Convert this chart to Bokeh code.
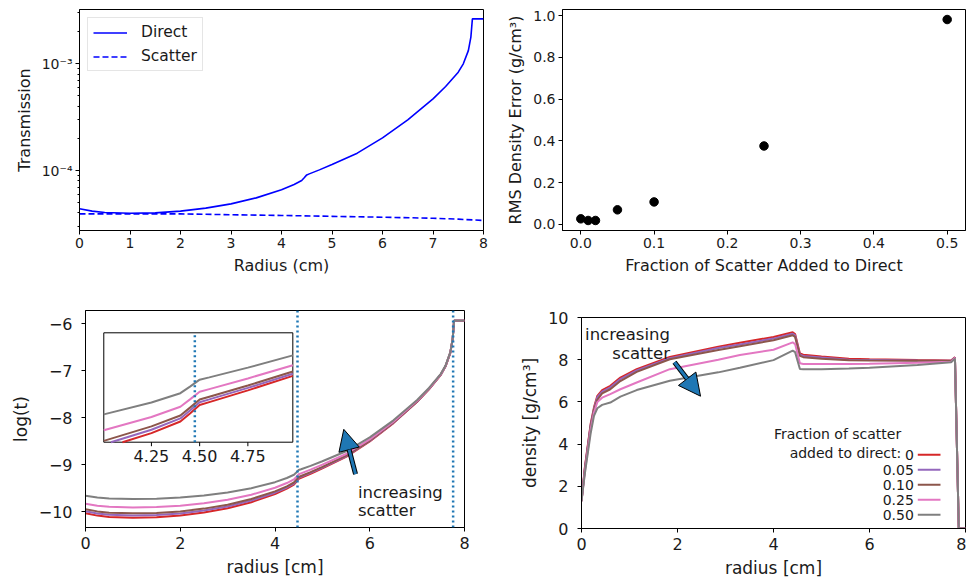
from bokeh.plotting import figure
from bokeh.layouts import column, row
from bokeh.models import (Range1d, FixedTicker, Span, Arrow, NormalHead, Label,
                          NumeralTickFormatter)
from bokeh.core.properties import value
from bokeh.embed import file_html
from bokeh.resources import INLINE

FONT = "DejaVu Sans"
TXT = "#1a1a1a"

# ---------------- data ----------------
# top-left: transmission vs radius
radius_direct = [0.0, 0.25, 0.5, 1.0, 1.5, 2.0, 2.5, 3.0, 3.5, 4.0, 4.25, 4.4, 4.45, 4.5,
                 4.55, 4.75, 5.0, 5.5, 6.0, 6.5, 7.0, 7.25, 7.5, 7.6, 7.7, 7.75, 7.78, 8.0]
direct_trans = [4.38e-5, 4.16e-5, 4.04e-5, 3.98e-5, 4.01e-5, 4.16e-5, 4.44e-5, 4.87e-5,
                5.54e-5, 6.59e-5, 7.39e-5, 8.05e-5, 8.55e-5, 9.10e-5, 9.30e-5, 1.014e-4,
                1.138e-4, 1.454e-4, 2.02e-4, 2.985e-4, 4.70e-4, 6.13e-4, 8.35e-4, 1.0e-3,
                1.33e-3, 1.78e-3, 2.64e-3, 2.64e-3]
radius_scatter = [0.0, 1.0, 2.0, 3.0, 4.0, 5.0, 6.0, 7.0, 7.5, 8.0]
scatter_trans = [3.92e-5, 3.92e-5, 3.92e-5, 3.85e-5, 3.79e-5, 3.72e-5, 3.65e-5, 3.57e-5,
                 3.50e-5, 3.40e-5]

# top-right: RMS density error
scatter_fraction = [0.0, 0.01, 0.02, 0.05, 0.1, 0.25, 0.5]
rms_error = [0.027, 0.019, 0.019, 0.070, 0.108, 0.376, 0.982]

# bottom-left: log(t) for each fraction of scatter
radius_log = radius_direct
logt_000 = [-10.036, -10.087, -10.117, -10.132, -10.124, -10.087, -10.022, -9.930, -9.801,
            -9.627, -9.513, -9.427, -9.367, -9.305, -9.283, -9.196, -9.081, -8.836, -8.507,
            -8.117, -7.663, -7.397, -7.088, -6.908, -6.623, -6.331, -5.937, -5.937]
logt_005 = [-9.992, -10.041, -10.069, -10.084, -10.076, -10.041, -9.979, -9.891, -9.767,
            -9.599, -9.488, -9.404, -9.345, -9.284, -9.263, -9.178, -9.065, -8.823, -8.498,
            -8.111, -7.659, -7.394, -7.086, -6.906, -6.621, -6.330, -5.936, -5.936]
logt_010 = [-9.950, -9.997, -10.024, -10.038, -10.031, -9.997, -9.938, -9.854, -9.734,
            -9.571, -9.463, -9.382, -9.324, -9.264, -9.243, -9.160, -9.049, -8.811, -8.489,
            -8.105, -7.655, -7.391, -7.084, -6.904, -6.620, -6.329, -5.936, -5.936]
logt_025 = [-9.834, -9.876, -9.900, -9.912, -9.906, -9.876, -9.824, -9.749, -9.642,
            -9.493, -9.393, -9.317, -9.263, -9.207, -9.187, -9.108, -9.003, -8.775, -8.463,
            -8.087, -7.644, -7.383, -7.078, -6.899, -6.616, -6.326, -5.934, -5.934]
logt_050 = [-9.666, -9.701, -9.721, -9.731, -9.726, -9.701, -9.659, -9.597, -9.505,
            -9.375, -9.286, -9.217, -9.168, -9.117, -9.100, -9.028, -8.930, -8.717, -8.421,
            -8.058, -7.626, -7.369, -7.067, -6.891, -6.610, -6.321, -5.931, -5.931]

# inset (visible part of the curves inside the zoom window)
inset_r_000 = [4.10, 4.25, 4.4, 4.45, 4.5, 4.55, 4.75, 4.983]
inset_y_000 = [-9.580, -9.513, -9.427, -9.367, -9.305, -9.283, -9.196, -9.089]
inset_r_005 = [4.04, 4.25, 4.4, 4.45, 4.5, 4.55, 4.75, 4.983]
inset_y_005 = [-9.580, -9.488, -9.404, -9.345, -9.284, -9.263, -9.178, -9.073]
inset_r_010 = [4.003, 4.25, 4.4, 4.45, 4.5, 4.55, 4.75, 4.983]
inset_y_010 = [-9.570, -9.463, -9.382, -9.324, -9.264, -9.243, -9.160, -9.057]
inset_r_025 = [4.003, 4.25, 4.4, 4.45, 4.5, 4.55, 4.75, 4.983]
inset_y_025 = [-9.492, -9.393, -9.317, -9.263, -9.207, -9.187, -9.108, -9.010]
inset_r_050 = [4.003, 4.25, 4.4, 4.45, 4.5, 4.55, 4.75, 4.983]
inset_y_050 = [-9.374, -9.286, -9.217, -9.168, -9.117, -9.100, -9.028, -8.937]
inset_xticks = [4.25, 4.50, 4.75]
inset_xlabels = ["4.25", "4.50", "4.75"]
boundaries = [4.475, 7.76]

# bottom-right: reconstructed density
radius_dens = [0.0, 0.07, 0.19, 0.26, 0.33, 0.43, 0.60, 0.81, 1.15, 1.84, 2.85, 3.30, 4.00,
               4.40, 4.45, 4.55, 4.62, 5.00, 5.57, 6.00, 7.00, 7.70, 7.78, 7.86, 8.00]
dens_000 = [1.3, 2.9, 4.95, 5.74, 6.29, 6.56, 6.76, 7.15, 7.55, 8.13, 8.62, 8.80, 9.08,
            9.30, 9.22, 8.30, 8.24, 8.15, 8.04, 8.02, 7.98, 7.96, 8.12, 0.0, 0.0]
dens_005 = [1.3, 2.85, 4.9, 5.68, 6.22, 6.49, 6.69, 7.08, 7.49, 8.07, 8.55, 8.72, 9.00,
            9.23, 9.15, 8.24, 8.18, 8.10, 8.00, 7.99, 7.96, 7.95, 8.11, 0.0, 0.0]
dens_010 = [1.3, 2.8, 4.85, 5.62, 6.10, 6.40, 6.60, 6.99, 7.42, 8.02, 8.46, 8.64, 8.92,
            9.16, 9.08, 8.18, 8.12, 8.05, 7.97, 7.96, 7.95, 7.94, 8.10, 0.0, 0.0]
dens_025 = [1.3, 2.7, 4.7, 5.50, 5.99, 6.20, 6.37, 6.60, 6.92, 7.55, 8.00, 8.22, 8.47,
            8.82, 8.74, 7.83, 7.80, 7.80, 7.80, 7.81, 7.85, 7.90, 8.09, 0.0, 0.0]
dens_050 = [1.3, 2.6, 4.5, 5.34, 5.70, 5.86, 5.97, 6.25, 6.56, 7.00, 7.40, 7.62, 7.98,
            8.43, 8.36, 7.56, 7.55, 7.55, 7.58, 7.62, 7.75, 7.88, 8.05, 0.0, 0.0]

fraction_labels = ["0", "0.05", "0.10", "0.25", "0.50"]
fraction_colors = ["#d62728", "#9467bd", "#8c564b", "#e377c2", "#7f7f7f"]


# ---------------- helpers ----------------
def make_fig(w, h, xr, yr, borders, y_axis_type="linear"):
    l, r, t, b = borders
    p = figure(width=w, height=h, x_range=xr, y_range=yr, y_axis_type=y_axis_type,
               output_backend="svg", toolbar_location=None,
               min_border_left=l, min_border_right=r, min_border_top=t,
               min_border_bottom=b)
    p.frame_align = False
    p.xgrid.visible = False
    p.ygrid.visible = False
    p.outline_line_color = "black"
    p.outline_line_alpha = 1.0
    p.outline_line_width = 1
    p.background_fill_color = "white"
    p.border_fill_color = "white"
    return p


def style_axis(ax, tick_px, label_px, standoff, label_standoff=5, minor=False):
    ax.major_label_text_font = FONT
    ax.major_label_text_font_size = f"{tick_px}px"
    ax.major_label_text_color = TXT
    ax.axis_label_text_font = FONT
    ax.axis_label_text_font_size = f"{label_px}px"
    ax.axis_label_text_font_style = "normal"
    ax.axis_label_text_color = TXT
    ax.axis_label_standoff = label_standoff
    ax.axis_line_color = "black"
    ax.major_tick_line_color = "black"
    ax.major_tick_in = 0
    ax.major_tick_out = 4
    ax.major_label_standoff = standoff
    if minor:
        ax.minor_tick_in = 0
        ax.minor_tick_out = 2
        ax.minor_tick_line_color = "black"
    else:
        ax.minor_tick_line_color = None


def add_arrow(p, x0, y0, x1, y1, size):
    p.add_layout(Arrow(end=NormalHead(size=size, fill_color="#1f77b4", line_color="black",
                                      line_width=1),
                       x_start=x0, y_start=y0, x_end=x1, y_end=y1,
                       line_color="black", line_width=5))
    p.add_layout(Arrow(end=NormalHead(size=size, fill_alpha=0, line_alpha=0),
                       x_start=x0, y_start=y0, x_end=x1, y_end=y1,
                       line_color="#1f77b4", line_width=3))


# ---------------- top-left ----------------
p1 = make_fig(490, 280, Range1d(0, 8), Range1d(2.74e-5, 3.23e-3), (79, 7, 9, 50),
              y_axis_type="log")
p1.line(radius_direct, direct_trans, color="blue", line_width=1.6, legend_label="Direct")
p1.line(radius_scatter, scatter_trans, color="blue", line_width=1.6, line_dash="6 3",
        legend_label="Scatter")
p1.xaxis[0].ticker = FixedTicker(ticks=[0, 1, 2, 3, 4, 5, 6, 7, 8])
minor = [3e-5, 4e-5, 5e-5, 6e-5, 7e-5, 8e-5, 9e-5, 2e-4, 3e-4, 4e-4, 5e-4, 6e-4, 7e-4,
         8e-4, 9e-4, 2e-3, 3e-3]
p1.yaxis[0].ticker = FixedTicker(ticks=[1e-4, 1e-3], minor_ticks=minor)
p1.yaxis[0].major_label_overrides = {1e-4: "10\u207b\u2074", 1e-3: "10\u207b\u00b3"}
p1.xaxis[0].axis_label = "Radius (cm)"
p1.yaxis[0].axis_label = "Transmission"
style_axis(p1.xaxis[0], 14, 16, 3)
style_axis(p1.yaxis[0], 14, 16, 3, minor=True)
lg = p1.legend[0]
lg.location = "top_left"
lg.margin = 8
lg.padding = 5
lg.spacing = 6
lg.glyph_width = 34
lg.glyph_height = 17
lg.label_height = 17
lg.label_standoff = 14
lg.label_text_font = FONT
lg.label_text_font_size = "15.5px"
lg.label_text_color = TXT
lg.border_line_color = "#cccccc"
lg.border_line_width = 1
lg.background_fill_alpha = 0.85

# ---------------- top-right ----------------
p2 = make_fig(476, 280, Range1d(-0.025, 0.525), Range1d(-0.029, 1.03), (72, 1, 9, 50))
p2.scatter(scatter_fraction, rms_error, size=8.5, color="black")
p2.xaxis[0].ticker = FixedTicker(ticks=[0.0, 0.1, 0.2, 0.3, 0.4, 0.5])
p2.yaxis[0].ticker = FixedTicker(ticks=[0.0, 0.2, 0.4, 0.6, 0.8, 1.0])
p2.xaxis[0].formatter = NumeralTickFormatter(format="0.0")
p2.yaxis[0].formatter = NumeralTickFormatter(format="0.0")
p2.xaxis[0].axis_label = "Fraction of Scatter Added to Direct"
p2.yaxis[0].axis_label = "RMS Density Error (g/cm\u00b3)"
style_axis(p2.xaxis[0], 14, 16, 3)
style_axis(p2.yaxis[0], 14, 16, 3)

# ---------------- bottom-left ----------------
p3 = make_fig(490, 304, Range1d(0, 8), Range1d(-10.34, -5.72), (85, 26, 30, 57))
for ys, c in zip([logt_000, logt_005, logt_010, logt_025, logt_050], fraction_colors):
    p3.line(radius_log, ys, color=c, line_width=2)
for b in boundaries:
    p3.add_layout(Span(location=b, dimension="height", line_color="#1f77b4",
                       line_width=2.5, line_dash="2 3"))
p3.xaxis[0].ticker = FixedTicker(ticks=[0, 2, 4, 6, 8])
p3.yaxis[0].ticker = FixedTicker(ticks=[-10, -9, -8, -7, -6])
p3.yaxis[0].major_label_overrides = {t: "\u2212" + str(-t) for t in [-10, -9, -8, -7, -6]}
p3.xaxis[0].axis_label = "radius [cm]"
p3.yaxis[0].axis_label = "log(t)"
style_axis(p3.xaxis[0], 16, 17, 5)
style_axis(p3.yaxis[0], 16, 17, 9)

# inset window
IX = (4.003, 4.983)
IY = (-9.58, -8.77)
sub = p3.subplot(x_source=Range1d(*IX), y_source=Range1d(*IY),
                 x_target=Range1d(0.386, 4.376), y_target=Range1d(-8.524, -6.195))
sub.quad(left=[IX[0]], right=[IX[1]], bottom=[IY[0]], top=[IY[1]],
         fill_color="white", line_color="black", line_width=1)
for xs, ys, c in zip([inset_r_000, inset_r_005, inset_r_010, inset_r_025, inset_r_050],
                     [inset_y_000, inset_y_005, inset_y_010, inset_y_025, inset_y_050],
                     fraction_colors):
    sub.line(xs, ys, color=c, line_width=2)
sub.line([boundaries[0], boundaries[0]], [IY[0], IY[1]], color="#1f77b4",
         line_width=2.5, line_dash="2 3")
tick_len = (IY[1] - IY[0]) * 4.0 / 109.0
sub.segment(x0=inset_xticks, x1=inset_xticks, y0=[IY[0]] * 3,
            y1=[IY[0] - tick_len] * 3, color="black", line_width=1)
sub.text(x=inset_xticks, y=[IY[0]] * 3, text=inset_xlabels, text_font=value(FONT),
         text_font_size="16px", text_align="center", text_baseline="top",
         y_offset=8, text_color=TXT)

add_arrow(p3, 5.70, -9.206, 5.452, -8.25, 21)
p3.add_layout(Label(x=5.75, y=-9.597, text="increasing", text_font=FONT,
                    text_font_size="16.5px", text_color=TXT, text_baseline="alphabetic"))
p3.add_layout(Label(x=5.75, y=-9.97, text="scatter", text_font=FONT,
                    text_font_size="16.5px", text_color=TXT, text_baseline="alphabetic"))

# ---------------- bottom-right ----------------
p4 = make_fig(476, 304, Range1d(0, 8), Range1d(0, 10), (91, 1, 37, 56))
for ys, c in zip([dens_000, dens_005, dens_010, dens_025, dens_050], fraction_colors):
    p4.line(radius_dens, ys, color=c, line_width=2)
p4.xaxis[0].ticker = FixedTicker(ticks=[0, 2, 4, 6, 8])
p4.yaxis[0].ticker = FixedTicker(ticks=[0, 2, 4, 6, 8, 10])
p4.xaxis[0].axis_label = "radius [cm]"
p4.yaxis[0].axis_label = "density [g/cm\u00b3]"
style_axis(p4.xaxis[0], 16, 17, 5)
style_axis(p4.yaxis[0], 16, 17, 9)

add_arrow(p4, 1.9375, 7.88, 2.48, 6.27, 22)
p4.add_layout(Label(x=1.843, y=9.18, text="increasing", text_font=FONT,
                    text_font_size="16.5px", text_color=TXT, text_align="right",
                    text_baseline="alphabetic"))
p4.add_layout(Label(x=1.843, y=8.28, text="scatter", text_font=FONT,
                    text_font_size="16.5px", text_color=TXT, text_align="right",
                    text_baseline="alphabetic"))

# custom legend (labels before the line samples)
LEG_X0, LEG_X1, LEG_LABEL_X, LEG_TITLE_X = 7.006, 7.479, 6.923, 6.66
LEG_TOP, LEG_STEP = 3.49, 0.711
rows = [LEG_TOP - i * LEG_STEP for i in range(len(fraction_labels))]
p4.segment(x0=[LEG_X0] * 5, x1=[LEG_X1] * 5, y0=rows, y1=rows, color=fraction_colors,
           line_width=2)
p4.text(x=[LEG_LABEL_X] * 5, y=rows, text=fraction_labels, text_font=value(FONT),
        text_font_size="14px", text_align="right", text_baseline="middle",
        text_color=TXT)
p4.text(x=[LEG_TITLE_X, LEG_TITLE_X], y=[4.455, 3.569],
        text=["Fraction of scatter", "added to direct:"], text_font=value(FONT),
        text_font_size="14px", text_align="right", text_baseline="middle",
        text_color=TXT)

layout = column(row(p1, p2), row(p3, p4))
open("out.html", "w").write(file_html(layout, INLINE))
